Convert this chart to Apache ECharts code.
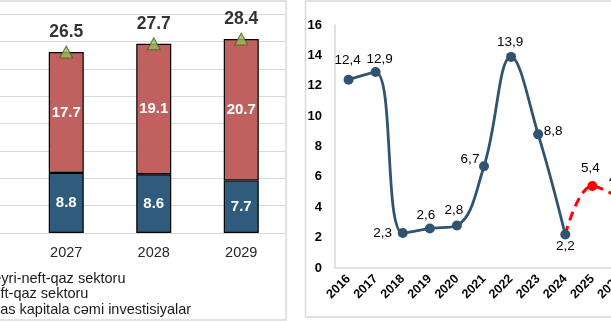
<!DOCTYPE html>
<html>
<head>
<meta charset="utf-8">
<script src="https://cdn.jsdelivr.net/npm/echarts@6/dist/echarts.min.js"></script>
<style>
  html, body { margin: 0; padding: 0; background: #ffffff; }
  #chart { width: 611px; height: 322px; }
</style>
</head>
<body>
<div id="chart"></div>
<script>
// ---- Left chart data (stacked bars) ----
const barYears = ['2026', '2027', '2028', '2029'];
const oilGas = [null, 8.8, 8.6, 7.7];        // Neft-qaz sektoru
const nonOilGas = [null, 17.7, 19.1, 20.7];  // Qeyri-neft-qaz sektoru
const totalInvest = [null, 26.5, 27.7, 28.4]; // Əsas kapitala cəmi investisiyalar
const barYTicks = [0, 32, 4]; // min, max, interval

// ---- Right chart data (line) ----
const lineYears = ['2016', '2017', '2018', '2019', '2020', '2021', '2022', '2023', '2024', '2025', '2026'];
const actualValues = [12.4, 12.9, 2.3, 2.6, 2.8, 6.7, 13.9, 8.8, 2.2, null, null];
const forecastValues = [null, null, null, null, null, null, null, null, 2.2, 5.4, 4.6];
const lineYTicks = [0, 16, 2];

// label offsets (styling) relative to point centre
const actualLabelOffsets = [[-1, -19], [4, -13], [-20, 0], [-4, -13], [-3, -15], [-14, -7], [-1, -15], [15, -3], [0, 12]];
const forecastLabelOffsets = { 9: [-2, -18], 10: [-1, -19] };

const FONT = '"Liberation Sans", Arial, sans-serif';
const comma = v => String(v).replace('.', ',');

const actualData = actualValues.map((v, i) => {
  if (v == null) return null;
  const off = actualLabelOffsets[i];
  return { value: v, label: { show: true, position: 'inside', offset: off } };
});
const forecastData = forecastValues.map((v, i) => {
  if (v == null) return null;
  const off = forecastLabelOffsets[i];
  if (!off) return { value: v, symbol: 'none', label: { show: false } };
  return { value: v, label: { show: true, position: 'inside', offset: off } };
});

const chart = echarts.init(document.getElementById('chart'), null, { renderer: 'canvas' });
chart.setOption({
  animation: false,
  backgroundColor: '#ffffff',
  textStyle: { fontFamily: FONT },
  graphic: [
    { type: 'rect', z: -10, silent: true, shape: { x: -5, y: 1, width: 291, height: 319 },
      style: { fill: 'none', stroke: '#d9d9d9', lineWidth: 1.5 } },
    { type: 'rect', z: -10, silent: true, shape: { x: 305.5, y: 1, width: 400, height: 316 },
      style: { fill: 'none', stroke: '#d9d9d9', lineWidth: 1.5 } }
  ],
  legend: {
    orient: 'vertical',
    left: -34,
    top: 271,
    itemWidth: 10,
    itemHeight: 10,
    itemGap: 0.5,
    padding: 0,
    data: ['Qeyri-neft-qaz sektoru', 'Neft-qaz sektoru', 'Əsas kapitala cəmi investisiyalar'],
    textStyle: { fontFamily: FONT, fontSize: 14.5, color: '#1a1a1a', lineHeight: 15 }
  },
  grid: [
    { left: -65, right: 326, top: 14.4, bottom: 89, containLabel: false, outerBoundsMode: 'none' },
    { left: 335, right: -22, top: 25, bottom: 54, containLabel: false, outerBoundsMode: 'none' }
  ],
  xAxis: [
    {
      type: 'category', gridIndex: 0, data: barYears,
      axisLine: { show: true, lineStyle: { color: '#d9d9d9', width: 1.2 } },
      axisTick: { show: false },
      axisLabel: { margin: 12, fontSize: 14.5, color: '#262626', fontFamily: FONT }
    },
    {
      type: 'category', gridIndex: 1, data: lineYears, boundaryGap: true,
      axisLine: { show: true, lineStyle: { color: '#d9d9d9', width: 1.5 } },
      axisTick: { show: false },
      axisLabel: { rotate: 45, margin: 9, fontSize: 12.5, fontWeight: 'bold', color: '#000', fontFamily: FONT, interval: 0 }
    }
  ],
  yAxis: [
    {
      type: 'value', gridIndex: 0, min: barYTicks[0], max: barYTicks[1], interval: barYTicks[2],
      axisLine: { show: false }, axisTick: { show: false }, axisLabel: { show: false },
      splitLine: { show: true, lineStyle: { color: '#d9d9d9', width: 1.2 } }
    },
    {
      type: 'value', gridIndex: 1, min: lineYTicks[0], max: lineYTicks[1], interval: lineYTicks[2],
      axisLine: { show: true, lineStyle: { color: '#d9d9d9', width: 1.5 } },
      axisTick: { show: false },
      splitLine: { show: false },
      axisLabel: { margin: 13, fontSize: 13, fontWeight: 'bold', color: '#000', fontFamily: FONT }
    }
  ],
  series: [
    {
      name: 'Neft-qaz sektoru', type: 'bar', xAxisIndex: 0, yAxisIndex: 0, stack: 'inv',
      data: oilGas, barWidth: '40%',
      itemStyle: { color: '#2f5b7c', borderColor: '#000', borderWidth: 1.2 },
      label: { show: true, position: 'inside', color: '#fff', fontWeight: 'bold', fontSize: 15, fontFamily: FONT,
               formatter: p => p.value == null ? '' : p.value.toFixed(1) }
    },
    {
      name: 'Qeyri-neft-qaz sektoru', type: 'bar', xAxisIndex: 0, yAxisIndex: 0, stack: 'inv',
      data: nonOilGas, barWidth: '40%',
      itemStyle: { color: '#c0615f', borderColor: '#000', borderWidth: 1.2 },
      label: { show: true, position: 'inside', color: '#fff', fontWeight: 'bold', fontSize: 15, fontFamily: FONT,
               formatter: p => p.value == null ? '' : p.value.toFixed(1) }
    },
    {
      name: 'Əsas kapitala cəmi investisiyalar', type: 'scatter', xAxisIndex: 0, yAxisIndex: 0,
      data: totalInvest, symbol: 'triangle', symbolSize: [13, 12], z: 5,
      itemStyle: { color: '#9bbb59', borderColor: '#3f5f1f', borderWidth: 1 },
      label: { show: true, position: 'top', distance: 4, color: '#000', fontWeight: 'bold', fontSize: 17.5, fontFamily: FONT,
               formatter: p => p.value == null ? '' : p.value.toFixed(1) }
    },
    {
      name: 'Faktiki', type: 'line', xAxisIndex: 1, yAxisIndex: 1, z: 4,
      data: actualData, smooth: 0.4, connectNulls: false,
      symbol: 'circle', symbolSize: 10, showAllSymbol: true,
      lineStyle: { color: '#2f5472', width: 2.8 },
      itemStyle: { color: '#2f5472' },
      label: { show: true, color: '#000', fontSize: 13.5, fontFamily: FONT, formatter: p => comma(p.value) }
    },
    {
      name: 'Proqnoz', type: 'line', xAxisIndex: 1, yAxisIndex: 1, z: 3,
      data: forecastData, smooth: 0.4,
      symbol: 'circle', symbolSize: 10, showAllSymbol: true,
      lineStyle: { color: '#ff0000', width: 3, type: [9, 6] },
      itemStyle: { color: '#ff0000' },
      label: { show: true, color: '#000', fontSize: 13.5, fontFamily: FONT, formatter: p => comma(p.value) }
    }
  ]
});
</script>
</body>
</html>
